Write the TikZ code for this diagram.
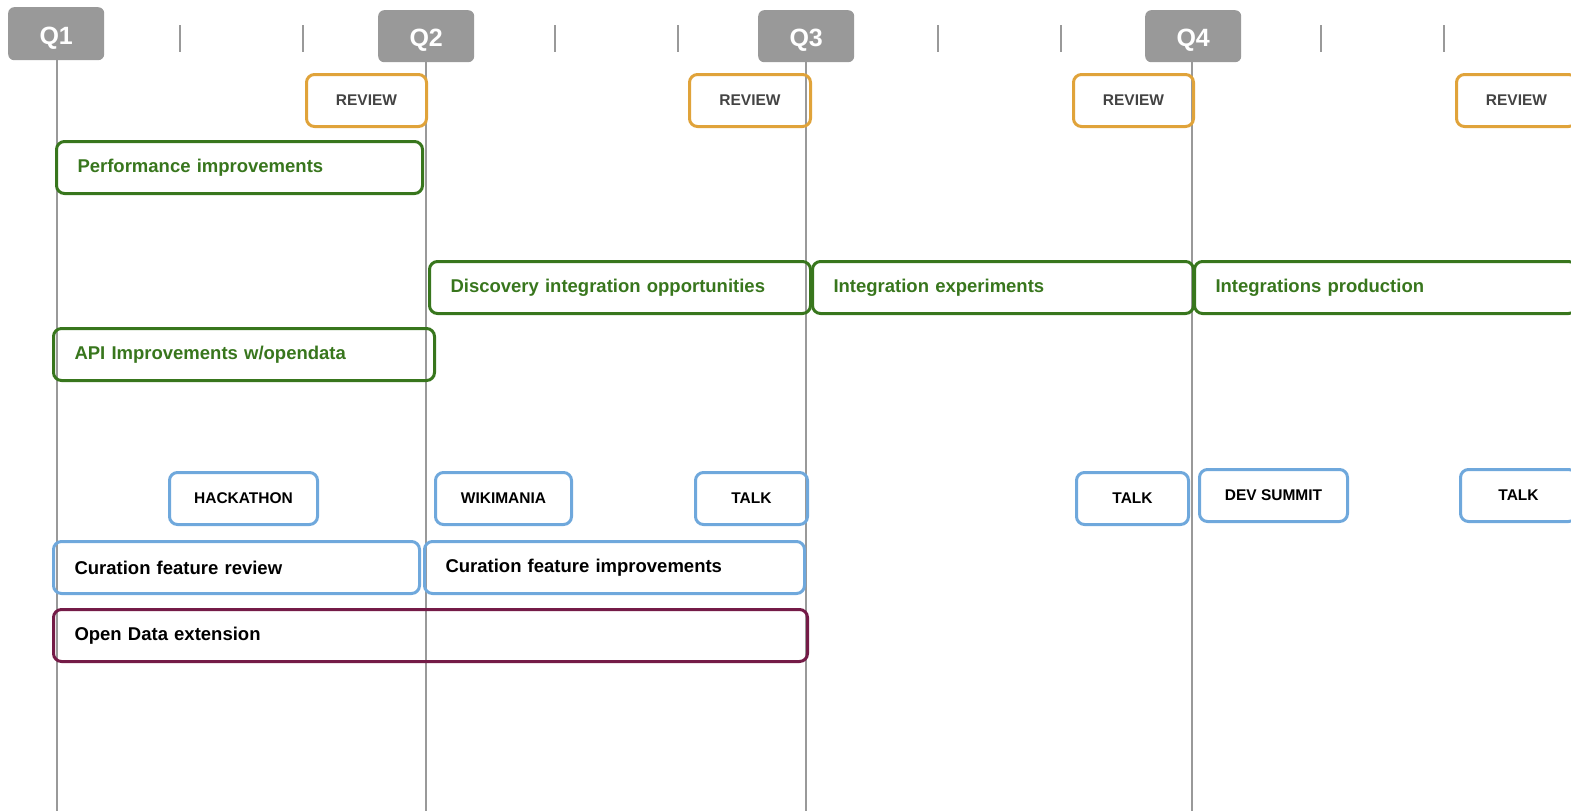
\documentclass[tikz,border=0pt]{standalone}
\usepackage{fontspec}
\setmainfont{Liberation Sans}
\definecolor{qgrey}{RGB}{153,153,153}
\definecolor{rorange}{RGB}{224,163,58}
\definecolor{ggreen}{RGB}{56,118,29}
\definecolor{bblue}{RGB}{111,168,220}
\definecolor{ppurple}{RGB}{116,27,71}
\definecolor{rtext}{RGB}{67,67,67}
\begin{document}
\begin{tikzpicture}[x=1pt,y=-1pt,
  qbox/.style={fill=qgrey,rounded corners=6pt,inner sep=0pt,anchor=north west,
    text=white,text height=21pt,text depth=0pt,font=\bfseries\fontsize{25}{25}\selectfont},
  vline/.style={qgrey,line width=1.5pt},
  tickline/.style={qgrey,line width=1.8pt},
  basebox/.style={draw,line width=3pt,rounded corners=8pt,inner ysep=0pt,minimum height=52pt,anchor=north west},
  review/.style={basebox,rorange,text=rtext,inner xsep=0pt,font=\bfseries\fontsize{15.5}{15.5}\selectfont},
  evt/.style={basebox,bblue,text=black,inner xsep=0pt,font=\bfseries\fontsize{15.5}{15.5}\selectfont},
  task/.style={basebox,inner xsep=21pt,align=left,font=\bfseries\fontsize{18.5}{18.5}\selectfont},
  gtask/.style={task,ggreen,text=ggreen},
  btask/.style={task,bblue,text=black},
  ptask/.style={task,ppurple,text=black}
]
\useasboundingbox (0,0) rectangle (1571,811);
\clip (0,0) rectangle (1571,811);
% quarter headers
\node[qbox,minimum width=96pt,minimum height=53pt] (q1) at (8,7) {Q1};
\node[qbox,minimum width=96pt,minimum height=52pt] (q2) at (378,10) {Q2};
\node[qbox,minimum width=96pt,minimum height=52pt] (q3) at (758,10) {Q3};
\node[qbox,minimum width=96pt,minimum height=52pt] (q4) at (1145,10) {Q4};
\coordinate (e1) at (57,811);
\coordinate (e2) at (426,811);
\coordinate (e3) at (806,811);
\coordinate (e4) at (1192,811);
\draw[vline] (q1.south -| e1) -- (e1);
\draw[vline] (q2.south -| e2) -- (e2);
\draw[vline] (q3.south -| e3) -- (e3);
\draw[vline] (q4.south -| e4) -- (e4);
% month ticks
\foreach \x in {180,303,555,678,938,1061,1321,1444}{
  \draw[tickline] (\x,25) -- (\x,52);
}
% reviews
\node[review,minimum width=120pt] (r1) at (305,73) {REVIEW};
\node[review,minimum width=121pt] (r2) at (688,73) {REVIEW};
\node[review,minimum width=120pt] (r3) at (1072,73) {REVIEW};
\node[review,minimum width=120pt] (r4) at (1455,73) {REVIEW};
% green tasks
\node[gtask,text width=324pt] (perf) at (55,140) {Performance improvements};
\node[gtask,text width=339pt] (disc) at (428,260) {Discovery integration opportunities};
\node[gtask,text width=339pt] (intexp) at (811,260) {Integration experiments};
\node[gtask,text width=340pt] (intprod) at (1193,260) {Integrations production};
\node[gtask,text width=339pt] (api) at (52,327) {API Improvements w/opendata};
% events
\node[evt,minimum width=148pt] (hack) at (168,471) {HACKATHON};
\node[evt,minimum width=136pt] (wiki) at (434,471) {WIKIMANIA};
\node[evt,minimum width=112pt] (talk1) at (694,471) {TALK};
\node[evt,minimum width=112pt] (talk2) at (1075,471) {TALK};
\node[evt,minimum width=148pt,minimum height=52pt] (dev) at (1198,468) {DEV SUMMIT};
\node[evt,minimum width=116pt] (talk3) at (1459,468) {TALK};
% blue tasks
\node[btask,text width=324pt] (cur1) at (52,540) {Curation feature review};
\node[btask,text width=338pt] (cur2) at (423,540) {Curation feature improvements};
% purple
\node[ptask,text width=712pt] (odx) at (52,608) {Open Data extension};
\end{tikzpicture}
\end{document}
